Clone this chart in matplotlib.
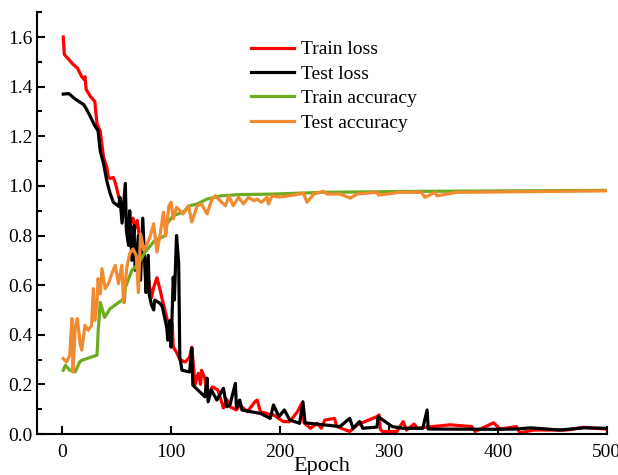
import matplotlib
matplotlib.use("Agg")
import matplotlib.pyplot as plt
from matplotlib.ticker import MultipleLocator

plt.rcParams['font.family'] = ['Liberation Serif', 'DejaVu Serif']

# train loss (red)
train_loss_ep = [1, 2, 6, 10, 14, 18, 20, 21, 22, 26, 30, 32, 35, 38, 41, 42.5, 44, 47, 49, 52, 55,
                 57, 59, 61, 62, 65, 67, 69, 71, 73, 75, 77, 78, 80, 82, 84, 87, 90, 92, 96, 99, 101,
                 102, 105, 108, 113, 117, 119, 122, 125, 127, 128, 131, 133, 138, 143, 148, 151, 154,
                 160, 163, 170, 177, 179, 182, 190, 194, 203, 209, 216, 220, 222, 228, 234, 238, 241,
                 250, 252, 264, 271, 274, 289, 291, 292, 294, 307, 313, 316, 323, 326, 340, 356, 376,
                 379, 396, 402, 417, 420, 433, 463, 479, 499]
train_loss = [1.60, 1.53, 1.51, 1.49, 1.475, 1.44, 1.43, 1.44, 1.39, 1.36, 1.34, 1.25, 1.22, 1.115,
              1.075, 1.034, 1.03, 1.034, 1.01, 0.954, 0.93, 0.91, 0.87, 0.86, 0.84, 0.87, 0.83, 0.86,
              0.79, 0.80, 0.72, 0.70, 0.67, 0.60, 0.55, 0.59, 0.63, 0.58, 0.54, 0.47, 0.39, 0.445,
              0.35, 0.33, 0.30, 0.29, 0.31, 0.35, 0.20, 0.245, 0.20, 0.257, 0.225, 0.157, 0.19,
              0.177, 0.105, 0.14, 0.11, 0.097, 0.117, 0.09, 0.13, 0.137, 0.09, 0.08, 0.077, 0.05,
              0.05, 0.09, 0.124, 0.045, 0.023, 0.043, 0.023, 0.056, 0.063, 0.03, 0.01, 0.037, 0.043,
              0.07, 0.077, 0.02, 0.01, 0.01, 0.05, 0.016, 0.04, 0.023, 0.03, 0.037, 0.03, 0.01, 0.045,
              0.02, 0.03, 0.005, 0.016, 0.016, 0.027, 0.02]

# test loss (black)
test_loss_ep = [1, 6, 12, 20, 24, 30, 33, 35, 38, 41, 44, 47, 52, 53, 55, 58, 59, 61, 62, 64, 66, 67,
                70, 72, 74, 76, 77, 79, 80, 82, 84, 85, 90, 92, 96, 97, 99, 100, 102, 103, 105, 107,
                108, 110, 117, 119, 120, 131, 133, 134, 137, 142, 148, 151, 154, 159, 160, 163, 165,
                173, 182, 191, 194, 199, 204, 209, 218, 221, 223, 255, 264, 267, 273, 276, 289, 290,
                303, 313, 331, 335, 336, 399, 417, 430, 457, 479, 499]
test_loss = [1.37, 1.372, 1.35, 1.327, 1.296, 1.242, 1.222, 1.14, 1.09, 1.02, 0.97, 0.934, 0.917,
             0.954, 0.85, 1.01, 0.82, 0.76, 0.90, 0.70, 0.84, 0.66, 0.80, 0.62, 0.87, 0.67, 0.57,
             0.72, 0.56, 0.52, 0.50, 0.54, 0.526, 0.512, 0.43, 0.378, 0.458, 0.35, 0.632, 0.54,
             0.80, 0.687, 0.31, 0.257, 0.25, 0.346, 0.197, 0.15, 0.225, 0.13, 0.177, 0.137, 0.184,
             0.11, 0.117, 0.204, 0.105, 0.137, 0.097, 0.09, 0.083, 0.063, 0.117, 0.07, 0.097,
             0.056, 0.043, 0.13, 0.045, 0.03, 0.063, 0.023, 0.05, 0.023, 0.028, 0.07, 0.03, 0.023,
             0.023, 0.097, 0.02, 0.019, 0.02, 0.025, 0.016, 0.025, 0.023]

# train accuracy (green)
train_acc_ep = [1, 3, 7, 12, 16, 18, 32, 32.5, 33, 35, 39, 44, 55, 57, 58, 64, 70, 76, 85, 95, 96,
                102, 111, 117, 124, 133, 146, 163, 194, 240, 329, 500]
train_acc = [0.257, 0.277, 0.257, 0.25, 0.29, 0.297, 0.318, 0.358, 0.41, 0.53, 0.47, 0.505, 0.54,
             0.53, 0.59, 0.66, 0.686, 0.732, 0.78, 0.80, 0.847, 0.88, 0.894, 0.92, 0.927, 0.947,
             0.96, 0.965, 0.967, 0.974, 0.978, 0.982]

# test accuracy (orange)
test_acc_ep = [1, 4, 7, 9, 10, 12, 14, 16.5, 18, 21, 24, 27, 28.7, 30, 32, 33, 35, 36.5, 39.5, 42.5,
               45.6, 48.7, 51.7, 54.8, 56.3, 59.4, 62, 65, 68, 70, 72, 75, 78, 81, 84, 87, 90, 93,
               95, 98, 100, 102, 105, 111, 116, 119, 124, 128, 133, 137.5, 140.5, 145, 150, 153,
               157, 162, 166.5, 171, 176, 179, 183, 188, 189.4, 192.6, 200, 208, 221.6, 224.7, 231,
               240, 243, 255, 264.5, 270.6, 289, 290.4, 310, 330, 333, 342.5, 344, 362, 500]
test_acc = [0.304, 0.29, 0.318, 0.465, 0.25, 0.43, 0.465, 0.364, 0.338, 0.438, 0.418, 0.438, 0.586,
            0.458, 0.525, 0.626, 0.565, 0.666, 0.586, 0.606, 0.646, 0.68, 0.606, 0.68, 0.533, 0.673,
            0.726, 0.746, 0.72, 0.57, 0.807, 0.74, 0.766, 0.80, 0.847, 0.733, 0.807, 0.894, 0.80,
            0.92, 0.934, 0.867, 0.914, 0.887, 0.92, 0.854, 0.92, 0.927, 0.887, 0.947, 0.96, 0.94,
            0.92, 0.96, 0.92, 0.954, 0.927, 0.954, 0.94, 0.947, 0.934, 0.954, 0.927, 0.96, 0.955,
            0.96, 0.97, 0.934, 0.967, 0.978, 0.967, 0.967, 0.951, 0.967, 0.974, 0.963, 0.974,
            0.974, 0.954, 0.974, 0.96, 0.974, 0.98]

fig = plt.figure(figsize=(6.18, 4.75), dpi=100)
ax = fig.add_axes([0.06, 0.0863, 0.922, 0.888])

lw = 2.3
ax.plot(train_loss_ep, train_loss, color='#ff0000', lw=lw, label='Train loss')
ax.plot(test_loss_ep, test_loss, color='#000000', lw=lw, label='Test loss')
ax.plot(train_acc_ep, train_acc, color='#6dab1f', lw=lw, label='Train accuracy')
ax.plot(test_acc_ep, test_acc, color='#f28a30', lw=lw, label='Test accuracy')

ax.set_xlim(-23, 500)
ax.set_ylim(0, 1.7)
ax.xaxis.set_major_locator(MultipleLocator(100))
ax.yaxis.set_major_locator(MultipleLocator(0.2))
ax.yaxis.set_minor_locator(MultipleLocator(0.1))
ax.yaxis.set_major_formatter(matplotlib.ticker.FormatStrFormatter('%.1f'))
ax.tick_params(axis='both', which='major', direction='in', length=6, width=1.5, labelsize=14)
ax.tick_params(axis='y', which='minor', direction='in', length=3.5, width=1.5)
ax.tick_params(axis='x', pad=7)
for s in ['top', 'right']:
    ax.spines[s].set_visible(False)
for s in ['left', 'bottom']:
    ax.spines[s].set_linewidth(1.5)

ax.set_xlabel('Epoch', fontsize=16, labelpad=-3)
ax.legend(loc='upper left', bbox_to_anchor=(0.355, 0.96), frameon=False, fontsize=14,
          handlelength=2.2, labelspacing=0.35, handletextpad=0.35, borderaxespad=0.2)

fig.savefig('out.png', dpi=100)
